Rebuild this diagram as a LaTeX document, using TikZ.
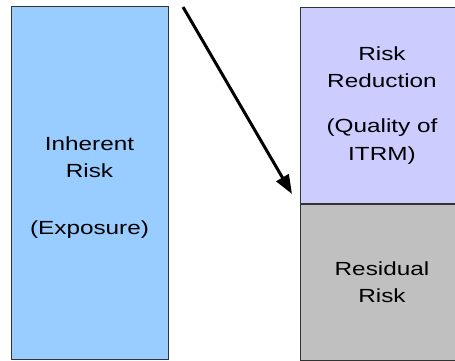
\documentclass[tikz,border=0pt]{standalone}
\usepackage{fontspec}
\setmainfont{Liberation Sans}
\newfontfamily\boxfont[FakeStretch=1.28]{Liberation Sans}
\usepackage{xcolor}
\usetikzlibrary{positioning, arrows.meta}
\definecolor{riskBlue}{HTML}{99CCFF}
\definecolor{riskLilac}{HTML}{CCCCFF}
\definecolor{riskGrey}{HTML}{C0C0C0}
\definecolor{riskEdge}{HTML}{333333}
\tikzset{
  riskbox/.style={
    rectangle,
    draw=riskEdge, line width=1pt,
    fill=#1,
    inner sep=0pt,
    align=center,
    font=\boxfont\fontsize{19}{27.5}\selectfont
  },
  bigarrow/.style={
    -{Triangle[length=19pt, width=14pt]},
    black, line width=3pt
  }
}

\begin{document}
\begin{tikzpicture}[x=1pt, y=-1pt]
      \useasboundingbox (0,0) rectangle (455,361);
      \clip (0,0) rectangle (455,361);
      \node[riskbox=riskBlue, minimum width=157pt, minimum height=352pt] (inherent) at (89.5, 183) {\rule{0pt}{23pt}Inherent\\Risk\\[29.2pt](Exposure)};
      \node[riskbox=riskLilac, minimum width=164pt, minimum height=195pt] (reduction) at (382, 105.5) {Risk\\Reduction\\[17.5pt](Quality of\\ITRM)};
      \node[riskbox=riskGrey, minimum width=164pt, minimum height=156pt, below=0pt of reduction] (residual) {Residual\\Risk};
      \coordinate (arrowstart) at (183, 7);
      \coordinate (arrowtip) at (292, 194);
      \draw[bigarrow] (arrowstart) -- (arrowtip);
    \end{tikzpicture}
\end{document}
